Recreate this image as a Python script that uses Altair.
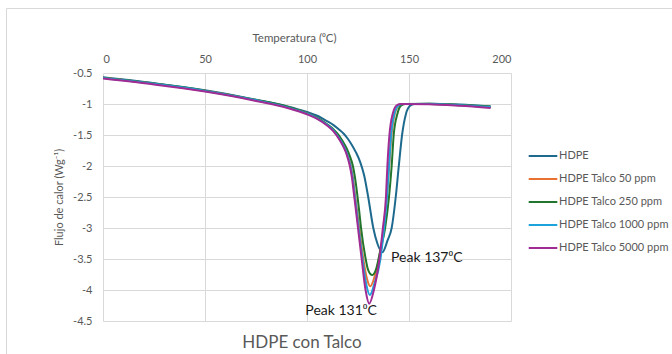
import altair as alt
import pandas as pd

SERIES = ["HDPE", "HDPE Talco 50 ppm", "HDPE Talco 250 ppm", "HDPE Talco 1000 ppm", "HDPE Talco 5000 ppm"]
COLORS = ["#1d6a8e", "#E97132", "#22752c", "#1ca3dc", "#A02B93"]

HDPE_T = [0, 25, 50, 75, 90, 100, 105, 110, 113, 116, 118, 120, 122, 124, 126, 128, 130, 132.5, 134.5, 137, 139.5, 141.5, 143.5, 145, 146.6, 148.5, 150.5, 152.5, 160, 175, 190]
HDPE_V = [-0.57, -0.665, -0.78, -0.93, -1.035, -1.13, -1.19, -1.28, -1.34, -1.42, -1.48, -1.56, -1.66, -1.78, -1.93, -2.15, -2.5, -3.0, -3.25, -3.39, -3.2, -3.0, -2.5, -2.0, -1.5, -1.16, -1.03, -1.0, -0.995, -1.01, -1.04]

T50_T = [0, 25, 50, 75, 90, 100, 105, 110, 113, 116.5, 118.5, 120, 121.5, 122.5, 123.5, 124.5, 125.6, 127.6, 129.4, 131, 133, 135.5, 137.6, 139.1, 140.3, 141.4, 143, 145.2, 147.3, 160, 175, 190]
T50_V = [-0.575, -0.672, -0.788, -0.938, -1.045, -1.15, -1.225, -1.335, -1.425, -1.58, -1.7, -1.82, -2.0, -2.18, -2.45, -2.72, -3.0, -3.5, -3.82, -3.94, -3.8, -3.45, -3.0, -2.5, -2.0, -1.5, -1.16, -1.02, -1.0, -1.0, -1.02, -1.05]

T250_T = [0, 25, 50, 75, 90, 100, 105, 110, 113, 115.5, 117.5, 119.5, 121, 122.5, 123.5, 124.5, 125.5, 126.5, 128.5, 130, 132, 134, 136, 138.3, 140.2, 141.5, 142.5, 144.3, 146, 148, 160, 175, 190]
T250_V = [-0.575, -0.67, -0.785, -0.935, -1.04, -1.15, -1.225, -1.33, -1.41, -1.5, -1.6, -1.72, -1.84, -2.0, -2.18, -2.42, -2.7, -3.0, -3.45, -3.68, -3.76, -3.65, -3.35, -3.0, -2.5, -2.0, -1.5, -1.16, -1.03, -1.0, -0.995, -1.015, -1.04]

T1000_T = [0, 25, 50, 75, 90, 100, 105, 110, 113, 116.3, 118.3, 119.8, 121.3, 122.3, 123.3, 124.3, 125.3, 127.2, 129, 130.8, 133, 136, 137.8, 139.2, 140.2, 141.2, 142.8, 145, 147, 160, 175, 190]
T1000_V = [-0.58, -0.675, -0.79, -0.94, -1.05, -1.155, -1.23, -1.34, -1.43, -1.58, -1.7, -1.82, -2.0, -2.18, -2.45, -2.72, -3.0, -3.5, -3.9, -4.08, -3.9, -3.5, -3.0, -2.5, -2.0, -1.5, -1.16, -1.02, -1.0, -1.0, -1.02, -1.05]

T5000_T = [0, 25, 50, 75, 90, 100, 105, 110, 113, 116, 118, 119.5, 121, 122, 123, 124, 125, 126.8, 128.7, 130.5, 132.8, 135.5, 137.2, 138.7, 139.4, 140.4, 142, 144, 146, 160, 175, 190]
T5000_V = [-0.59, -0.685, -0.8, -0.95, -1.06, -1.165, -1.24, -1.35, -1.44, -1.58, -1.7, -1.82, -2.0, -2.18, -2.45, -2.72, -3.0, -3.5, -4.0, -4.22, -4.0, -3.5, -3.0, -2.5, -2.0, -1.5, -1.16, -1.02, -1.0, -1.005, -1.03, -1.065]

ANN_TEXT = ["Peak 137\u2070C", "Peak 131\u2070C"]
ANN_T = [141.2, 99.2]
ANN_V = [-3.48, -4.34]

X_TICKS = [0, 50, 100, 150, 200]
Y_TICKS = [-0.5, -1, -1.5, -2, -2.5, -3, -3.5, -4, -4.5]

FONT = "Lato"
GRAY = "#595959"

rows = []
for name, ts, vs in zip(SERIES, [HDPE_T, T50_T, T250_T, T1000_T, T5000_T],
                        [HDPE_V, T50_V, T250_V, T1000_V, T5000_V]):
    for i, (t, v) in enumerate(zip(ts, vs)):
        rows.append({"serie": name, "T": t, "Q": v, "i": i})
df = pd.DataFrame(rows)
ann = pd.DataFrame({"txt": ANN_TEXT, "T": ANN_T, "Q": ANN_V})

xscale = alt.Scale(domain=[0, 200], nice=False)
yscale = alt.Scale(domain=[-4.5, -0.5], nice=False)

xaxis = alt.Axis(orient="top", values=X_TICKS, title="Temperatura (\u2070C)",
                 grid=True, gridColor="#d9d9d9", domain=False, ticks=False,
                 labelPadding=9, titlePadding=10, labelFontSize=11,
                 labelColor=GRAY, titleColor=GRAY, titleFontSize=11.5,
                 titleFontWeight="normal", labelFont=FONT, titleFont=FONT,
                 labelOverlap=False, titleX=191)
yaxis = alt.Axis(values=Y_TICKS, title="Flujo de calor (Wg\u207b\u00b9)",
                 labelExpr="toString(datum.value)", labelOverlap=False,
                 grid=True, gridColor="#d9d9d9", domain=False, ticks=False,
                 labelPadding=11, titlePadding=8, labelFontSize=11,
                 labelColor=GRAY, titleColor=GRAY, titleFontSize=11,
                 titleFontWeight="normal", labelFont=FONT, titleFont=FONT)

lines = alt.Chart(df).mark_line(strokeWidth=2, interpolate="monotone", clip=True).encode(
    x=alt.X("T:Q", scale=xscale, axis=xaxis),
    y=alt.Y("Q:Q", scale=yscale, axis=yaxis),
    color=alt.Color("serie:N", sort=SERIES,
                    scale=alt.Scale(domain=SERIES, range=COLORS),
                    legend=alt.Legend(title=None, orient="none", legendX=428, legendY=71,
                                      symbolType="M-1.3,0L1.3,0", symbolSize=484,
                                      symbolStrokeWidth=2, labelFontSize=11,
                                      labelColor=GRAY, labelFont=FONT, labelOffset=4,
                                      rowPadding=6, padding=0)),
    order=alt.Order("i:Q"),
)

labels = alt.Chart(ann).mark_text(align="left", baseline="middle", fontSize=14,
                                  font=FONT, color="#1a1a1a").encode(
    x=alt.X("T:Q", scale=xscale, axis=xaxis), y=alt.Y("Q:Q", scale=yscale, axis=yaxis),
    text="txt:N")

border = alt.Chart(pd.DataFrame({"a": [0]})).mark_rect(
    fill=None, stroke="#d9d9d9", strokeWidth=1).encode(
    x=alt.value(-96.5), y=alt.value(-64.5), x2=alt.value(575), y2=alt.value(282))

chart = alt.layer(border, lines, labels).properties(
    width=408, height=248,
    autosize=alt.AutoSizeParams(type="none"),
    padding={"left": 103, "top": 73, "right": 161, "bottom": 33},
    title=alt.TitleParams("HDPE con Talco", orient="bottom", fontSize=17, font=FONT,
                          color=GRAY, fontWeight="normal", offset=-21, anchor="middle", dx=-5),
).configure(background="white").configure_view(stroke=None)

chart.save("out.html", embed_options={"renderer": "svg", "actions": False})
